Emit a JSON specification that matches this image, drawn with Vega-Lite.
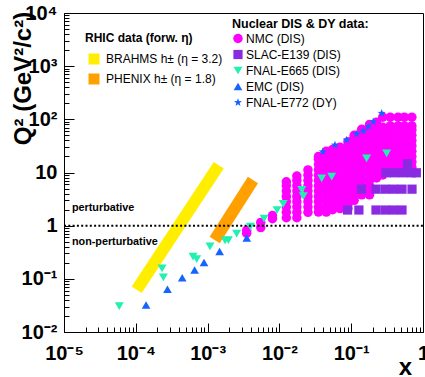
{
  "$schema": "https://vega.github.io/schema/vega-lite/v6.json",
  "width": 359,
  "height": 319,
  "autosize": {"type": "none"},
  "padding": {"left": 64, "top": 13, "right": 2, "bottom": 45},
  "background": "#ffffff",
  "config": {
    "font": "Liberation Sans",
    "view": {"stroke": "#000000", "strokeWidth": 1}
  },
  "encoding": {
    "x": {
      "field": "x", "type": "quantitative",
      "scale": {"type": "log", "domain": [0.00001, 1], "nice": false},
      "axis": {
        "values": [0.00001,0.00002,0.00003,0.00004,0.00005,0.00006,0.00007,0.00008,0.00009,0.0001,0.0002,0.0003,0.0004,0.0005,0.0006,0.0007,0.0008,0.0009,0.001,0.002,0.003,0.004,0.005,0.006,0.007,0.008,0.009,0.01,0.02,0.03,0.04,0.05,0.06,0.07,0.08,0.09,0.1,0.2,0.3,0.4,0.5,0.6,0.7,0.8,0.9,1],
        "labelExpr": "indexof([0.00001,0.0001,0.001,0.01,0.1,1], datum.value) < 0 ? '' : ['10⁻⁵','10⁻⁴','10⁻³','10⁻²','10⁻¹','1'][indexof([0.00001,0.0001,0.001,0.01,0.1,1], datum.value)]",
        "tickSize": {"condition": {"test": "indexof([0.00001,0.0001,0.001,0.01,0.1,1], datum.value) >= 0", "value": -9}, "value": -5},
        "tickColor": "#000000", "tickWidth": 1,
        "domainColor": "#000000", "domainWidth": 1,
        "grid": false,
        "labelFontSize": 20, "labelFontWeight": "bold", "labelColor": "#000000",
        "labelPadding": 20, "labelOverlap": false, "labelFlush": false, "labelBound": false,
        "title": "x", "titleFontSize": 24, "titleFontWeight": "bold", "titleColor": "#000000",
        "titleX": 341, "titleY": 42, "titleAlign": "center", "titleBaseline": "alphabetic"
      }
    },
    "y": {
      "field": "q", "type": "quantitative",
      "scale": {"type": "log", "domain": [0.01, 10000], "nice": false},
      "axis": {
        "values": [0.01,0.02,0.03,0.04,0.05,0.06,0.07,0.08,0.09,0.1,0.2,0.3,0.4,0.5,0.6,0.7,0.8,0.9,1,2,3,4,5,6,7,8,9,10,20,30,40,50,60,70,80,90,100,200,300,400,500,600,700,800,900,1000,2000,3000,4000,5000,6000,7000,8000,9000,10000],
        "labelExpr": "indexof([0.01,0.1,1,10,100,1000,10000], datum.value) < 0 ? '' : ['10⁻²','10⁻¹','1','10','10²','10³','10⁴'][indexof([0.01,0.1,1,10,100,1000,10000], datum.value)]",
        "tickSize": {"condition": {"test": "indexof([0.01,0.1,1,10,100,1000,10000], datum.value) >= 0", "value": -10}, "value": -5},
        "tickColor": "#000000", "tickWidth": 1,
        "domainColor": "#000000", "domainWidth": 1,
        "grid": false,
        "labelFontSize": 20, "labelFontWeight": "bold", "labelColor": "#000000",
        "labelPadding": 17, "labelOverlap": false, "labelFlush": false, "labelBound": false,
        "title": "Q² (GeV²/c²)", "titleFontSize": 24, "titleFontWeight": "bold", "titleColor": "#000000",
        "titleX": -34, "titleY": 65, "titleAngle": -90, "titleAlign": "center", "titleBaseline": "alphabetic"
      }
    }
  },
  "layer": [
    {
      "data": {"values": [
        {"band": "BRAHMS h± (η = 3.2)", "x": 0.000103, "q": 0.0625},
        {"band": "BRAHMS h± (η = 3.2)", "x": 0.00143, "q": 13.7},
        {"band": "PHENIX h± (η = 1.8)", "x": 0.001256, "q": 0.538},
        {"band": "PHENIX h± (η = 1.8)", "x": 0.00428, "q": 7.23}
      ]},
      "mark": {"type": "line", "strokeWidth": 12, "strokeCap": "butt"},
      "encoding": {
        "color": {
          "field": "band", "type": "nominal",
          "scale": {"domain": ["BRAHMS h± (η = 3.2)", "PHENIX h± (η = 1.8)"], "range": ["#ffee00", "#ffa000"]},
          "legend": {
            "title": "RHIC data (forw. η)", "orient": "none", "legendX": 21, "legendY": 20,
            "titleFontSize": 12, "titleFontWeight": "bold", "titleColor": "#000000", "titlePadding": 8,
            "labelFontSize": 12, "labelColor": "#000000", "labelOffset": 6,
            "symbolType": "square", "symbolSize": 121, "symbolStrokeWidth": 0, "symbolOffset": 3,
            "rowPadding": 8,
            "encode": {
              "symbols": {
                "update": {
                  "fill": {"signal": "datum.value == 'BRAHMS h± (η = 3.2)' ? '#ffee00' : '#ffa000'"},
                  "fillOpacity": {"value": 1},
                  "strokeWidth": {"value": 0}
                }
              }
            }
          }
        }
      }
    },
    {
      "data": {"values": [
        {"s": "NMC (DIS)", "x": 0.0035, "q": 0.72},
        {"s": "NMC (DIS)", "x": 0.0035, "q": 0.82},
        {"s": "NMC (DIS)", "x": 0.0055, "q": 0.92},
        {"s": "NMC (DIS)", "x": 0.0055, "q": 1.15},
        {"s": "NMC (DIS)", "x": 0.008, "q": 1.35},
        {"s": "NMC (DIS)", "x": 0.008, "q": 1.55},
        {"s": "NMC (DIS)", "x": 0.0125, "q": 1.41},
        {"s": "NMC (DIS)", "x": 0.0125, "q": 1.78},
        {"s": "NMC (DIS)", "x": 0.0125, "q": 2.24},
        {"s": "NMC (DIS)", "x": 0.0125, "q": 2.82},
        {"s": "NMC (DIS)", "x": 0.0125, "q": 3.55},
        {"s": "NMC (DIS)", "x": 0.0125, "q": 4.47},
        {"s": "NMC (DIS)", "x": 0.0125, "q": 5.62},
        {"s": "NMC (DIS)", "x": 0.0125, "q": 6.7},
        {"s": "NMC (DIS)", "x": 0.0175, "q": 1.41},
        {"s": "NMC (DIS)", "x": 0.0175, "q": 1.78},
        {"s": "NMC (DIS)", "x": 0.0175, "q": 2.24},
        {"s": "NMC (DIS)", "x": 0.0175, "q": 2.82},
        {"s": "NMC (DIS)", "x": 0.0175, "q": 3.55},
        {"s": "NMC (DIS)", "x": 0.0175, "q": 4.47},
        {"s": "NMC (DIS)", "x": 0.0175, "q": 5.62},
        {"s": "NMC (DIS)", "x": 0.0175, "q": 7.08},
        {"s": "NMC (DIS)", "x": 0.0175, "q": 8.6},
        {"s": "NMC (DIS)", "x": 0.025, "q": 1.78},
        {"s": "NMC (DIS)", "x": 0.025, "q": 2.24},
        {"s": "NMC (DIS)", "x": 0.025, "q": 2.82},
        {"s": "NMC (DIS)", "x": 0.025, "q": 3.55},
        {"s": "NMC (DIS)", "x": 0.025, "q": 4.47},
        {"s": "NMC (DIS)", "x": 0.025, "q": 5.62},
        {"s": "NMC (DIS)", "x": 0.025, "q": 7.08},
        {"s": "NMC (DIS)", "x": 0.025, "q": 8.91},
        {"s": "NMC (DIS)", "x": 0.025, "q": 11.2},
        {"s": "NMC (DIS)", "x": 0.035, "q": 1.8},
        {"s": "NMC (DIS)", "x": 0.035, "q": 2.24},
        {"s": "NMC (DIS)", "x": 0.035, "q": 2.82},
        {"s": "NMC (DIS)", "x": 0.035, "q": 3.55},
        {"s": "NMC (DIS)", "x": 0.035, "q": 4.47},
        {"s": "NMC (DIS)", "x": 0.035, "q": 5.62},
        {"s": "NMC (DIS)", "x": 0.035, "q": 7.08},
        {"s": "NMC (DIS)", "x": 0.035, "q": 8.91},
        {"s": "NMC (DIS)", "x": 0.035, "q": 11.2},
        {"s": "NMC (DIS)", "x": 0.035, "q": 14.1},
        {"s": "NMC (DIS)", "x": 0.035, "q": 17.8},
        {"s": "NMC (DIS)", "x": 0.035, "q": 20},
        {"s": "NMC (DIS)", "x": 0.045, "q": 1.8},
        {"s": "NMC (DIS)", "x": 0.045, "q": 2.24},
        {"s": "NMC (DIS)", "x": 0.045, "q": 2.82},
        {"s": "NMC (DIS)", "x": 0.045, "q": 3.55},
        {"s": "NMC (DIS)", "x": 0.045, "q": 4.47},
        {"s": "NMC (DIS)", "x": 0.045, "q": 5.62},
        {"s": "NMC (DIS)", "x": 0.045, "q": 7.08},
        {"s": "NMC (DIS)", "x": 0.045, "q": 8.91},
        {"s": "NMC (DIS)", "x": 0.045, "q": 11.2},
        {"s": "NMC (DIS)", "x": 0.045, "q": 14.1},
        {"s": "NMC (DIS)", "x": 0.045, "q": 17.8},
        {"s": "NMC (DIS)", "x": 0.045, "q": 22.4},
        {"s": "NMC (DIS)", "x": 0.045, "q": 25},
        {"s": "NMC (DIS)", "x": 0.055, "q": 2},
        {"s": "NMC (DIS)", "x": 0.055, "q": 2.51},
        {"s": "NMC (DIS)", "x": 0.055, "q": 3.16},
        {"s": "NMC (DIS)", "x": 0.055, "q": 3.98},
        {"s": "NMC (DIS)", "x": 0.055, "q": 5.01},
        {"s": "NMC (DIS)", "x": 0.055, "q": 6.31},
        {"s": "NMC (DIS)", "x": 0.055, "q": 7.94},
        {"s": "NMC (DIS)", "x": 0.055, "q": 10},
        {"s": "NMC (DIS)", "x": 0.055, "q": 12.6},
        {"s": "NMC (DIS)", "x": 0.055, "q": 15.8},
        {"s": "NMC (DIS)", "x": 0.055, "q": 20},
        {"s": "NMC (DIS)", "x": 0.055, "q": 25.1},
        {"s": "NMC (DIS)", "x": 0.055, "q": 27},
        {"s": "NMC (DIS)", "x": 0.07, "q": 2.1},
        {"s": "NMC (DIS)", "x": 0.07, "q": 2.51},
        {"s": "NMC (DIS)", "x": 0.07, "q": 3.16},
        {"s": "NMC (DIS)", "x": 0.07, "q": 3.98},
        {"s": "NMC (DIS)", "x": 0.07, "q": 5.01},
        {"s": "NMC (DIS)", "x": 0.07, "q": 6.31},
        {"s": "NMC (DIS)", "x": 0.07, "q": 7.94},
        {"s": "NMC (DIS)", "x": 0.07, "q": 10},
        {"s": "NMC (DIS)", "x": 0.07, "q": 12.6},
        {"s": "NMC (DIS)", "x": 0.07, "q": 15.8},
        {"s": "NMC (DIS)", "x": 0.07, "q": 20},
        {"s": "NMC (DIS)", "x": 0.07, "q": 25.1},
        {"s": "NMC (DIS)", "x": 0.07, "q": 30},
        {"s": "NMC (DIS)", "x": 0.09, "q": 2.1},
        {"s": "NMC (DIS)", "x": 0.09, "q": 2.51},
        {"s": "NMC (DIS)", "x": 0.09, "q": 3.16},
        {"s": "NMC (DIS)", "x": 0.09, "q": 3.98},
        {"s": "NMC (DIS)", "x": 0.09, "q": 5.01},
        {"s": "NMC (DIS)", "x": 0.09, "q": 6.31},
        {"s": "NMC (DIS)", "x": 0.09, "q": 7.94},
        {"s": "NMC (DIS)", "x": 0.09, "q": 10},
        {"s": "NMC (DIS)", "x": 0.09, "q": 12.6},
        {"s": "NMC (DIS)", "x": 0.09, "q": 15.8},
        {"s": "NMC (DIS)", "x": 0.09, "q": 20},
        {"s": "NMC (DIS)", "x": 0.09, "q": 25.1},
        {"s": "NMC (DIS)", "x": 0.09, "q": 31.6},
        {"s": "NMC (DIS)", "x": 0.09, "q": 38},
        {"s": "NMC (DIS)", "x": 0.11, "q": 3},
        {"s": "NMC (DIS)", "x": 0.11, "q": 3.55},
        {"s": "NMC (DIS)", "x": 0.11, "q": 4.47},
        {"s": "NMC (DIS)", "x": 0.11, "q": 5.62},
        {"s": "NMC (DIS)", "x": 0.11, "q": 7.08},
        {"s": "NMC (DIS)", "x": 0.11, "q": 8.91},
        {"s": "NMC (DIS)", "x": 0.11, "q": 11.2},
        {"s": "NMC (DIS)", "x": 0.11, "q": 14.1},
        {"s": "NMC (DIS)", "x": 0.11, "q": 17.8},
        {"s": "NMC (DIS)", "x": 0.11, "q": 22.4},
        {"s": "NMC (DIS)", "x": 0.11, "q": 28.2},
        {"s": "NMC (DIS)", "x": 0.11, "q": 35.5},
        {"s": "NMC (DIS)", "x": 0.11, "q": 44.7},
        {"s": "NMC (DIS)", "x": 0.11, "q": 50},
        {"s": "NMC (DIS)", "x": 0.14, "q": 3.8},
        {"s": "NMC (DIS)", "x": 0.14, "q": 4.47},
        {"s": "NMC (DIS)", "x": 0.14, "q": 5.62},
        {"s": "NMC (DIS)", "x": 0.14, "q": 7.08},
        {"s": "NMC (DIS)", "x": 0.14, "q": 8.91},
        {"s": "NMC (DIS)", "x": 0.14, "q": 11.2},
        {"s": "NMC (DIS)", "x": 0.14, "q": 14.1},
        {"s": "NMC (DIS)", "x": 0.14, "q": 17.8},
        {"s": "NMC (DIS)", "x": 0.14, "q": 22.4},
        {"s": "NMC (DIS)", "x": 0.14, "q": 28.2},
        {"s": "NMC (DIS)", "x": 0.14, "q": 35.5},
        {"s": "NMC (DIS)", "x": 0.14, "q": 44.7},
        {"s": "NMC (DIS)", "x": 0.14, "q": 56.2},
        {"s": "NMC (DIS)", "x": 0.14, "q": 65},
        {"s": "NMC (DIS)", "x": 0.18, "q": 3.8},
        {"s": "NMC (DIS)", "x": 0.18, "q": 4.47},
        {"s": "NMC (DIS)", "x": 0.18, "q": 5.62},
        {"s": "NMC (DIS)", "x": 0.18, "q": 7.08},
        {"s": "NMC (DIS)", "x": 0.18, "q": 8.91},
        {"s": "NMC (DIS)", "x": 0.18, "q": 11.2},
        {"s": "NMC (DIS)", "x": 0.18, "q": 14.1},
        {"s": "NMC (DIS)", "x": 0.18, "q": 17.8},
        {"s": "NMC (DIS)", "x": 0.18, "q": 22.4},
        {"s": "NMC (DIS)", "x": 0.18, "q": 28.2},
        {"s": "NMC (DIS)", "x": 0.18, "q": 35.5},
        {"s": "NMC (DIS)", "x": 0.18, "q": 44.7},
        {"s": "NMC (DIS)", "x": 0.18, "q": 56.2},
        {"s": "NMC (DIS)", "x": 0.18, "q": 70.8},
        {"s": "NMC (DIS)", "x": 0.18, "q": 80},
        {"s": "NMC (DIS)", "x": 0.225, "q": 7.9},
        {"s": "NMC (DIS)", "x": 0.225, "q": 10},
        {"s": "NMC (DIS)", "x": 0.225, "q": 12.6},
        {"s": "NMC (DIS)", "x": 0.225, "q": 15.8},
        {"s": "NMC (DIS)", "x": 0.225, "q": 20},
        {"s": "NMC (DIS)", "x": 0.225, "q": 25.1},
        {"s": "NMC (DIS)", "x": 0.225, "q": 31.6},
        {"s": "NMC (DIS)", "x": 0.225, "q": 39.8},
        {"s": "NMC (DIS)", "x": 0.225, "q": 50.1},
        {"s": "NMC (DIS)", "x": 0.225, "q": 63.1},
        {"s": "NMC (DIS)", "x": 0.225, "q": 79.4},
        {"s": "NMC (DIS)", "x": 0.225, "q": 88},
        {"s": "NMC (DIS)", "x": 0.275, "q": 9},
        {"s": "NMC (DIS)", "x": 0.275, "q": 11.2},
        {"s": "NMC (DIS)", "x": 0.275, "q": 14.1},
        {"s": "NMC (DIS)", "x": 0.275, "q": 17.8},
        {"s": "NMC (DIS)", "x": 0.275, "q": 22.4},
        {"s": "NMC (DIS)", "x": 0.275, "q": 28.2},
        {"s": "NMC (DIS)", "x": 0.275, "q": 35.5},
        {"s": "NMC (DIS)", "x": 0.275, "q": 44.7},
        {"s": "NMC (DIS)", "x": 0.275, "q": 56.2},
        {"s": "NMC (DIS)", "x": 0.275, "q": 70.8},
        {"s": "NMC (DIS)", "x": 0.275, "q": 110},
        {"s": "NMC (DIS)", "x": 0.35, "q": 10},
        {"s": "NMC (DIS)", "x": 0.35, "q": 12.6},
        {"s": "NMC (DIS)", "x": 0.35, "q": 15.8},
        {"s": "NMC (DIS)", "x": 0.35, "q": 20},
        {"s": "NMC (DIS)", "x": 0.35, "q": 25.1},
        {"s": "NMC (DIS)", "x": 0.35, "q": 31.6},
        {"s": "NMC (DIS)", "x": 0.35, "q": 39.8},
        {"s": "NMC (DIS)", "x": 0.35, "q": 50.1},
        {"s": "NMC (DIS)", "x": 0.35, "q": 63.1},
        {"s": "NMC (DIS)", "x": 0.35, "q": 75},
        {"s": "NMC (DIS)", "x": 0.35, "q": 110},
        {"s": "NMC (DIS)", "x": 0.45, "q": 12.6},
        {"s": "NMC (DIS)", "x": 0.45, "q": 15.8},
        {"s": "NMC (DIS)", "x": 0.45, "q": 20},
        {"s": "NMC (DIS)", "x": 0.45, "q": 25.1},
        {"s": "NMC (DIS)", "x": 0.45, "q": 31.6},
        {"s": "NMC (DIS)", "x": 0.45, "q": 39.8},
        {"s": "NMC (DIS)", "x": 0.45, "q": 50.1},
        {"s": "NMC (DIS)", "x": 0.45, "q": 63.1},
        {"s": "NMC (DIS)", "x": 0.45, "q": 75},
        {"s": "NMC (DIS)", "x": 0.45, "q": 110},
        {"s": "NMC (DIS)", "x": 0.55, "q": 12.6},
        {"s": "NMC (DIS)", "x": 0.55, "q": 15.8},
        {"s": "NMC (DIS)", "x": 0.55, "q": 20},
        {"s": "NMC (DIS)", "x": 0.55, "q": 25.1},
        {"s": "NMC (DIS)", "x": 0.55, "q": 31.6},
        {"s": "NMC (DIS)", "x": 0.55, "q": 39.8},
        {"s": "NMC (DIS)", "x": 0.55, "q": 50.1},
        {"s": "NMC (DIS)", "x": 0.55, "q": 63.1},
        {"s": "NMC (DIS)", "x": 0.55, "q": 75},
        {"s": "NMC (DIS)", "x": 0.55, "q": 110},
        {"s": "NMC (DIS)", "x": 0.7, "q": 12.6},
        {"s": "NMC (DIS)", "x": 0.7, "q": 15.8},
        {"s": "NMC (DIS)", "x": 0.7, "q": 20},
        {"s": "NMC (DIS)", "x": 0.7, "q": 25.1},
        {"s": "NMC (DIS)", "x": 0.7, "q": 31.6},
        {"s": "NMC (DIS)", "x": 0.7, "q": 39.8},
        {"s": "NMC (DIS)", "x": 0.7, "q": 50.1},
        {"s": "NMC (DIS)", "x": 0.7, "q": 63.1},
        {"s": "NMC (DIS)", "x": 0.7, "q": 75},
        {"s": "NMC (DIS)", "x": 0.7, "q": 110},
        {"s": "SLAC-E139 (DIS)", "x": 0.0889, "q": 1.97},
        {"s": "SLAC-E139 (DIS)", "x": 0.128, "q": 1.97},
        {"s": "SLAC-E139 (DIS)", "x": 0.2215, "q": 1.97},
        {"s": "SLAC-E139 (DIS)", "x": 0.296, "q": 1.97},
        {"s": "SLAC-E139 (DIS)", "x": 0.388, "q": 1.97},
        {"s": "SLAC-E139 (DIS)", "x": 0.51, "q": 1.97},
        {"s": "SLAC-E139 (DIS)", "x": 0.139, "q": 4.86},
        {"s": "SLAC-E139 (DIS)", "x": 0.2215, "q": 4.86},
        {"s": "SLAC-E139 (DIS)", "x": 0.296, "q": 4.86},
        {"s": "SLAC-E139 (DIS)", "x": 0.388, "q": 4.86},
        {"s": "SLAC-E139 (DIS)", "x": 0.51, "q": 4.86},
        {"s": "SLAC-E139 (DIS)", "x": 0.703, "q": 4.86},
        {"s": "SLAC-E139 (DIS)", "x": 0.305, "q": 9.88},
        {"s": "SLAC-E139 (DIS)", "x": 0.401, "q": 9.88},
        {"s": "SLAC-E139 (DIS)", "x": 0.526, "q": 9.88},
        {"s": "SLAC-E139 (DIS)", "x": 0.692, "q": 9.88},
        {"s": "SLAC-E139 (DIS)", "x": 0.807, "q": 9.88},
        {"s": "SLAC-E139 (DIS)", "x": 0.608, "q": 14.6},
        {"s": "FNAL-E665 (DIS)", "x": 0.0000589, "q": 0.0308},
        {"s": "FNAL-E665 (DIS)", "x": 0.000232, "q": 0.158},
        {"s": "FNAL-E665 (DIS)", "x": 0.000242, "q": 0.106},
        {"s": "FNAL-E665 (DIS)", "x": 0.000627, "q": 0.263},
        {"s": "FNAL-E665 (DIS)", "x": 0.000705, "q": 0.236},
        {"s": "FNAL-E665 (DIS)", "x": 0.00108, "q": 0.406},
        {"s": "FNAL-E665 (DIS)", "x": 0.00175, "q": 0.531},
        {"s": "FNAL-E665 (DIS)", "x": 0.00195, "q": 0.535},
        {"s": "FNAL-E665 (DIS)", "x": 0.00254, "q": 0.706},
        {"s": "FNAL-E665 (DIS)", "x": 0.00394, "q": 0.957},
        {"s": "FNAL-E665 (DIS)", "x": 0.00611, "q": 1.35},
        {"s": "FNAL-E665 (DIS)", "x": 0.00927, "q": 1.97},
        {"s": "FNAL-E665 (DIS)", "x": 0.0113, "q": 2.56},
        {"s": "FNAL-E665 (DIS)", "x": 0.0205, "q": 4.69},
        {"s": "FNAL-E665 (DIS)", "x": 0.0215, "q": 3.61},
        {"s": "FNAL-E665 (DIS)", "x": 0.0388, "q": 7.78},
        {"s": "FNAL-E665 (DIS)", "x": 0.0535, "q": 8.34},
        {"s": "FNAL-E665 (DIS)", "x": 0.164, "q": 18.5},
        {"s": "FNAL-E665 (DIS)", "x": 0.312, "q": 23},
        {"s": "EMC (DIS)", "x": 0.000139, "q": 0.0322},
        {"s": "EMC (DIS)", "x": 0.000276, "q": 0.0636},
        {"s": "EMC (DIS)", "x": 0.000443, "q": 0.105},
        {"s": "EMC (DIS)", "x": 0.000659, "q": 0.147},
        {"s": "EMC (DIS)", "x": 0.000891, "q": 0.203},
        {"s": "EMC (DIS)", "x": 0.00147, "q": 0.327},
        {"s": "EMC (DIS)", "x": 0.00351, "q": 0.586},
        {"s": "FNAL-E772 (DY)", "x": 0.0401, "q": 24.6},
        {"s": "FNAL-E772 (DY)", "x": 0.0594, "q": 32.9},
        {"s": "FNAL-E772 (DY)", "x": 0.0865, "q": 40.9},
        {"s": "FNAL-E772 (DY)", "x": 0.119, "q": 53},
        {"s": "FNAL-E772 (DY)", "x": 0.148, "q": 60.4},
        {"s": "FNAL-E772 (DY)", "x": 0.173, "q": 72.7},
        {"s": "FNAL-E772 (DY)", "x": 0.203, "q": 90.3},
        {"s": "FNAL-E772 (DY)", "x": 0.266, "q": 130}
      ]},
      "mark": {"type": "point", "filled": true, "opacity": 1, "strokeWidth": 0},
      "encoding": {
        "color": {
          "field": "s", "type": "nominal",
          "scale": {"domain": ["NMC (DIS)", "SLAC-E139 (DIS)", "FNAL-E665 (DIS)", "EMC (DIS)", "FNAL-E772 (DY)"], "range": ["#ff00ff", "#8a2be2", "#20f0b0", "#1464ff", "#1464ff"]},
          "legend": {
            "title": "Nuclear DIS & DY data:", "orient": "none", "legendX": 168, "legendY": 5,
            "titleFontSize": 12.5, "titleFontWeight": "bold", "titleColor": "#000000", "titlePadding": 2,
            "labelFontSize": 12, "labelColor": "#000000", "labelOffset": 2, "rowPadding": 4, "symbolStrokeWidth": 0
          }
        },
        "shape": {
          "field": "s", "type": "nominal",
          "scale": {"domain": ["NMC (DIS)", "SLAC-E139 (DIS)", "FNAL-E665 (DIS)", "EMC (DIS)", "FNAL-E772 (DY)"], "range": ["circle", "square", "triangle-down", "triangle-up", "M0,-1L0.247,-0.34L0.951,-0.309L0.399,0.13L0.588,0.809L0,0.42L-0.588,0.809L-0.399,0.13L-0.951,-0.309L-0.247,-0.34Z"]},
          "legend": {
            "title": "Nuclear DIS & DY data:", "orient": "none", "legendX": 168, "legendY": 5,
            "titleFontSize": 12.5, "titleFontWeight": "bold", "titleColor": "#000000", "titlePadding": 2,
            "labelFontSize": 12, "labelColor": "#000000", "labelOffset": 2, "rowPadding": 4, "symbolStrokeWidth": 0
          }
        },
        "size": {
          "field": "s", "type": "nominal",
          "scale": {"domain": ["NMC (DIS)", "SLAC-E139 (DIS)", "FNAL-E665 (DIS)", "EMC (DIS)", "FNAL-E772 (DY)"], "range": [90, 70, 100, 100, 150]},
          "legend": {
            "title": "Nuclear DIS & DY data:", "orient": "none", "legendX": 168, "legendY": 5,
            "titleFontSize": 12.5, "titleFontWeight": "bold", "titleColor": "#000000", "titlePadding": 2,
            "labelFontSize": 12, "labelColor": "#000000", "labelOffset": 2, "rowPadding": 4, "symbolStrokeWidth": 0
          }
        }
      }
    },
    {
      "data": {"values": [
        {"x": 0.00001, "q": 1},
        {"x": 1, "q": 1}
      ]},
      "mark": {"type": "line", "color": "#000000", "strokeWidth": 2, "strokeDash": [2, 2.3]},
      "encoding": {}
    },
    {
      "data": {"values": [
        {"x": 0.0000129, "q": 2.15, "t": "perturbative"},
        {"x": 0.0000129, "q": 0.493, "t": "non-perturbative"}
      ]},
      "mark": {"type": "text", "align": "left", "baseline": "middle", "fontSize": 10.8, "fontWeight": "bold", "color": "#000000"},
      "encoding": {"text": {"field": "t", "type": "nominal"}}
    }
  ],
  "resolve": {"scale": {"color": "independent", "shape": "independent", "size": "independent"}}
}
